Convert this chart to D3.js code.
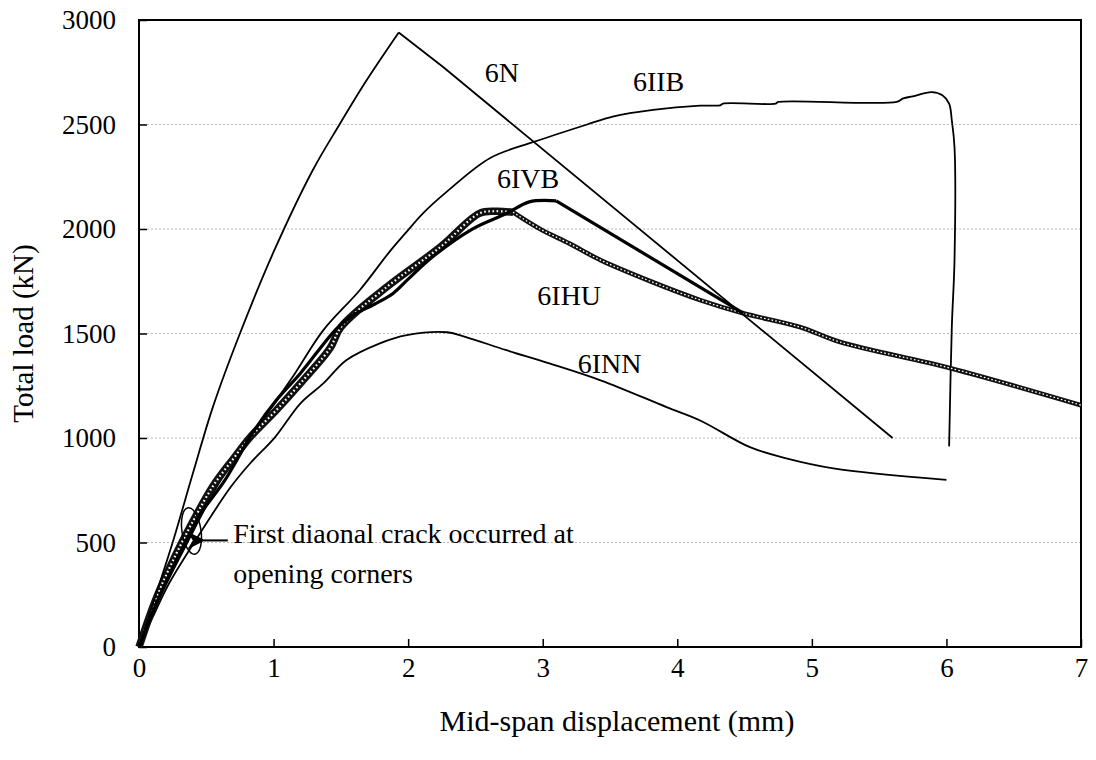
<!DOCTYPE html>
<html>
<head>
<meta charset="utf-8">
<script src="https://cdn.jsdelivr.net/npm/d3@7"></script>
<style>
  html, body { margin: 0; padding: 0; background: #fff; }
  svg text { font-family: "Liberation Serif", "Times New Roman", serif; fill: #000; }
</style>
</head>
<body>
<svg id="chart" width="1096" height="760"></svg>
<script>
// ---- data (displacement mm, load kN) ----
const xTicks = [0, 1, 2, 3, 4, 5, 6, 7];
const yTicks = [0, 500, 1000, 1500, 2000, 2500, 3000];
const gridLevels = [500, 1000, 1500, 2000, 2500];

const s6N = [[0,0],[0.1,200],[0.25,500],[0.4,830],[0.55,1150],[0.75,1500],[1.0,1890],[1.29,2280],[1.49,2500],[1.69,2710],[1.93,2940],[2.26,2775],[5.6,1000]];
const peak6N = 1.93;

const s6IIB = [[0,0],[0.15,230],[0.36,500],[0.6,790],[0.85,1030],[1.02,1180],[1.15,1300],[1.37,1516],[1.64,1707],[1.87,1898],[1.98,1980],[2.11,2075],[2.29,2180],[2.61,2340],[2.94,2418],[3.33,2500],[3.52,2538],[3.82,2570],[4.17,2590],[4.32,2592],[4.34,2600],[4.73,2600],[4.75,2608],[5.63,2608],[5.68,2625],[5.75,2635],[5.89,2655],[5.97,2640],[6.02,2600],[6.04,2520],[6.06,2392],[6.06,1850],[6.04,1530],[6.02,960]];

const s6IVB = [[0,0],[0.15,240],[0.33,480],[0.45,630],[0.64,800],[0.85,1030],[1.02,1180],[1.2,1310],[1.47,1525],[1.59,1588],[1.75,1640],[1.89,1693],[2.0,1760],[2.18,1866],[2.48,2001],[2.73,2074],[2.9,2130],[3.1,2135],[4.49,1597]];
const peak6IVB = 3.1;

const s6IHU = [[0,0],[0.12,220],[0.25,410],[0.4,600],[0.55,770],[0.7,900],[0.825,1003],[1.02,1133],[1.2,1262],[1.42,1430],[1.5,1530],[1.84,1722],[2.24,1914],[2.53,2075],[2.65,2085],[2.78,2080],[2.98,2000],[3.2,1930],[3.43,1851],[3.8,1750],[4.17,1660],[4.49,1597],[4.91,1531],[5.21,1459],[6.03,1334],[7.0,1157]];
const peak6IHU = 2.78;

const s6INN = [[0,0],[0.1,140],[0.22,300],[0.41,500],[0.68,764],[0.825,878],[1.01,1003],[1.2,1166],[1.37,1261],[1.54,1372],[1.79,1453],[1.99,1492],[2.29,1506],[2.43,1483],[2.73,1420],[3.05,1357],[3.43,1276],[3.92,1148],[4.17,1084],[4.54,956],[4.81,903],[5.16,855],[6.0,800]];

const seriesLabels = [
  {text: "6N",   x: 2.57, y: 2705},
  {text: "6IIB", x: 3.67, y: 2662},
  {text: "6IVB", x: 2.66, y: 2195},
  {text: "6IHU", x: 2.96, y: 1635},
  {text: "6INN", x: 3.26, y: 1310}
];
const noteLines = ["First diaonal crack occurred at", "opening corners"];

// ---- layout ----
const svg = d3.select("#chart");
const mLeft = 139, mTop = 20, mRight = 1081, mBottom = 647;

const x = d3.scaleLinear().domain([0, 7]).range([mLeft, mRight]);
const y = d3.scaleLinear().domain([0, 3000]).range([mBottom, mTop]);

// gridlines
svg.append("g").selectAll("line").data(gridLevels).join("line")
  .attr("x1", mLeft).attr("x2", mRight)
  .attr("y1", d => y(d)).attr("y2", d => y(d))
  .attr("stroke", "#b8b8b8").attr("stroke-width", 1).attr("stroke-dasharray", "2,2");

// axes
const xAxis = svg.append("g").attr("transform", `translate(0,${mBottom})`)
  .call(d3.axisBottom(x).tickValues(xTicks).tickFormat(d3.format("d"))
        .tickSizeInner(-8).tickSizeOuter(0).tickPadding(11));
const yAxis = svg.append("g").attr("transform", `translate(${mLeft},0)`)
  .call(d3.axisLeft(y).tickValues(yTicks).tickFormat(d3.format("d"))
        .tickSizeInner(-8).tickSizeOuter(0).tickPadding(23));
[xAxis, yAxis].forEach(g => {
  g.select(".domain").remove();
  g.selectAll(".tick line").attr("stroke", "#000").attr("stroke-width", 1.5);
  g.selectAll(".tick text").style("font-size", "27px")
    .style("font-family", '"Liberation Serif", serif').attr("fill", "#000");
});

// frame
svg.append("rect").attr("x", mLeft).attr("y", mTop)
  .attr("width", mRight - mLeft).attr("height", mBottom - mTop)
  .attr("fill", "none").attr("stroke", "#000").attr("stroke-width", 2);

// axis titles
svg.append("text").attr("x", (mLeft + mRight) / 2 + 7).attr("y", 731)
  .attr("text-anchor", "middle").style("font-size", "30px")
  .text("Mid-span displacement (mm)");
svg.append("text").attr("transform", `translate(33,${(mTop + mBottom) / 2}) rotate(-90)`)
  .attr("text-anchor", "middle").style("font-size", "29px")
  .text("Total load (kN)");

const line = d3.line().x(d => x(d[0])).y(d => y(d[1]));
const smooth = d3.line().x(d => x(d[0])).y(d => y(d[1])).curve(d3.curveCatmullRom.alpha(0.5));

const plot = svg.append("g");
function stroke(path, w, col) {
  return plot.append("path").attr("d", path).attr("fill", "none")
    .attr("stroke", col || "#000").attr("stroke-width", w)
    .attr("stroke-linejoin", "round");
}

// 6INN
stroke(smooth(s6INN), 1.8);
// 6IIB
stroke(smooth(s6IIB), 1.8);
// 6IHU (marker chain) rising part wide, descending narrower
const rise = s6IHU.filter(d => d[0] <= peak6IHU);
const fall = s6IHU.filter(d => d[0] >= peak6IHU);
stroke(smooth(rise), 7.5, "#111");
stroke(smooth(rise), 2.2, "#fff").attr("stroke-dasharray", "1.6,2.6");
stroke(smooth(fall), 4.6, "#111");
stroke(smooth(fall), 1.3, "#fff").attr("stroke-dasharray", "1.6,2.2");
// 6IVB
stroke(smooth(s6IVB.filter(d => d[0] <= peak6IVB)), 3.2);
stroke(line(s6IVB.filter(d => d[0] >= peak6IVB)), 3.2);
// 6N
stroke(smooth(s6N.filter(d => d[0] <= peak6N)), 1.8);
stroke(line(s6N.filter(d => d[0] >= peak6N)), 1.8);

// series labels
svg.append("g").selectAll("text").data(seriesLabels).join("text")
  .attr("x", d => x(d.x)).attr("y", d => y(d.y))
  .style("font-size", "28px").text(d => d.text);

// annotation: ellipse, arrow, text
svg.append("ellipse").attr("transform", `translate(${x(0.39)},${y(555)}) rotate(-8.5)`)
  .attr("rx", 9.5).attr("ry", 23.5).attr("fill", "none")
  .attr("stroke", "#000").attr("stroke-width", 1.5);
svg.append("defs").append("marker").attr("id", "arr")
  .attr("viewBox", "0 0 10 10").attr("refX", 1).attr("refY", 5)
  .attr("markerWidth", 9).attr("markerHeight", 9).attr("orient", "auto-start-reverse")
  .append("path").attr("d", "M0,5 L10,0 L7,5 L10,10 Z").attr("fill", "#000");
svg.append("line").attr("x1", x(0.66)).attr("x2", x(0.48))
  .attr("y1", y(510)).attr("y2", y(510))
  .attr("stroke", "#000").attr("stroke-width", 2).attr("marker-end", "url(#arr)");
svg.append("g").selectAll("text").data(noteLines).join("text")
  .attr("x", x(0.7)).attr("y", (d, i) => y(497) + i * 40)
  .style("font-size", "28px").text(d => d);
</script>
</body>
</html>
